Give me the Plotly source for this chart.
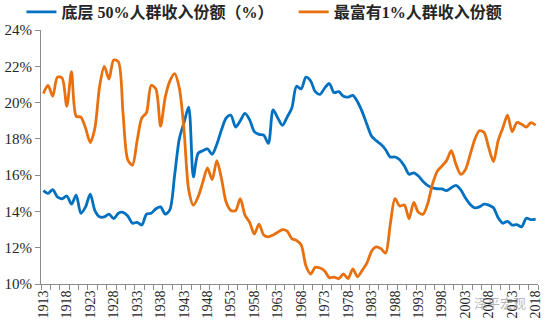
import plotly.graph_objects as go

# Years on the category axis
years = list(range(1913, 2019))

# Bottom 50% pre-tax income share (%)
bottom50 = [
    15.15, 15.0, 15.2, 14.8, 14.7, 14.85, 14.4, 14.9, 13.9, 14.25,   # 1913-1922
    14.95, 14.05, 13.7, 13.7, 13.85, 13.6, 13.9, 13.95, 13.75, 13.35,  # 1923-1932
    13.4, 13.25, 13.85, 13.9, 14.15, 14.25, 13.85, 14.1, 16.0, 18.0,   # 1933-1942
    18.9, 19.75, 15.9, 17.2, 17.35, 17.45, 17.15, 17.7, 18.5, 19.15,   # 1943-1952
    19.3, 18.65, 19.0, 19.4, 19.05, 18.4, 18.25, 18.2, 17.75, 19.6,    # 1953-1962
    19.15, 18.75, 19.2, 19.7, 20.9, 20.75, 21.4, 21.2, 20.6, 20.45,    # 1963-1972
    20.8, 21.05, 20.55, 20.6, 20.35, 20.3, 20.4, 20.05, 19.5, 18.8,    # 1973-1982
    18.15, 17.9, 17.7, 17.4, 17.0, 17.0, 16.85, 16.5, 16.05, 16.13,    # 1983-1992
    15.95, 15.65, 15.42, 15.3, 15.25, 15.24, 15.15, 15.3, 15.44, 15.2, # 1993-2002
    14.75, 14.4, 14.2, 14.25, 14.4, 14.35, 14.2, 13.65, 13.35, 13.45,  # 2003-2012
    13.25, 13.27, 13.15, 13.62, 13.55, 13.58,                          # 2013-2018
]

# Top 1% pre-tax income share (%)
top1 = [
    20.5, 20.95, 20.35, 21.4, 21.35, 19.8, 21.7, 19.25, 19.2, 18.6,    # 1913-1922
    17.8, 18.6, 20.9, 22.0, 21.3, 22.35, 22.25, 19.4, 16.85, 16.55,    # 1923-1932
    17.9, 19.15, 19.45, 20.95, 20.75, 18.7, 20.3, 21.2, 21.6, 20.8,    # 1933-1942
    18.5, 15.2, 14.35, 14.8, 15.6, 16.4, 15.75, 16.8, 15.8, 14.5,      # 1943-1952
    14.05, 14.05, 14.7, 13.8, 13.4, 12.75, 13.3, 12.7, 12.6, 12.7,     # 1953-1962
    12.85, 13.0, 12.92, 12.5, 12.4, 12.15, 11.0, 10.55, 10.92, 10.88,  # 1963-1972
    10.72, 10.35, 10.38, 10.3, 10.55, 10.3, 10.83, 10.4, 10.75, 11.15, # 1973-1982
    11.8, 12.05, 11.95, 11.7, 13.3, 14.7, 14.3, 14.35, 13.6, 14.5,     # 1983-1992
    13.95, 13.85, 14.45, 15.5, 16.2, 16.5, 16.8, 17.35, 16.6, 16.05,   # 1993-2002
    16.3, 17.1, 17.95, 18.45, 18.35, 17.5, 16.75, 17.9, 18.6, 19.3,    # 2003-2012
    18.4, 18.9, 18.8, 18.65, 18.9, 18.75,                              # 2013-2018
]

name_bottom = "底层 50%人群收入份额（%）"
name_top = "最富有1%人群收入份额"

label_years = years[::5]
tick_marks = [y - 0.5 for y in years[::2]] + [years[-1] + 0.5]
y_ticks = list(range(10, 25, 2))

BLUE = "#0070C0"
ORANGE = "#E8700F"
AXIS = "#8C8C8C"
TEXT = "#262626"
SERIF = "Times New Roman, Liberation Serif, Noto Sans CJK SC, serif"

fig = go.Figure()
fig.add_trace(go.Scatter(
    x=years, y=bottom50, name=name_bottom, mode="lines", legend="legend",
    line=dict(color=BLUE, width=2.8, shape="spline", smoothing=0.8),
))
fig.add_trace(go.Scatter(
    x=years, y=top1, name=name_top, mode="lines", legend="legend2",
    line=dict(color=ORANGE, width=2.8, shape="spline", smoothing=0.8),
))

legend_style = dict(
    orientation="h", xref="container", yref="container",
    y=0.9635, xanchor="left", yanchor="middle",
    font=dict(family=SERIF, size=16, color=TEXT, weight="bold"),
    itemwidth=30, bgcolor="rgba(0,0,0,0)", borderwidth=0,
)

fig.update_layout(
    width=550, height=329,
    margin=dict(l=41, r=12, t=30, b=45, autoexpand=False),
    paper_bgcolor="white", plot_bgcolor="white",
    showlegend=True,
    legend=dict(x=0.039, **legend_style),
    legend2=dict(x=0.534, **legend_style),
    annotations=[dict(
        text="泽平宏观", xref="paper", yref="paper", x=0.98, y=-0.071,
        xanchor="right", yanchor="middle", showarrow=False,
        font=dict(family="Noto Sans CJK SC", size=13, color="rgba(120,120,120,0.55)"),
    )],
)

fig.update_xaxes(
    range=[years[0] - 0.5, years[-1] + 0.5],
    tickmode="array", tickvals=label_years, ticktext=[str(y) for y in label_years],
    tickangle=-90, ticks="", showgrid=False, zeroline=False,
    showline=True, linecolor=AXIS, linewidth=1,
    tickfont=dict(family=SERIF, size=14, color=TEXT),
    minor=dict(tickmode="array", tickvals=tick_marks, ticks="outside",
               ticklen=5, tickcolor=AXIS, tickwidth=1, showgrid=False),
)
fig.update_yaxes(
    range=[10, 24], tickmode="array", tickvals=y_ticks,
    ticktext=[f"{v}%" for v in y_ticks],
    ticks="outside", ticklen=5, tickcolor=AXIS, tickwidth=1,
    showgrid=False, zeroline=False,
    showline=True, linecolor=AXIS, linewidth=1,
    tickfont=dict(family=SERIF, size=15, color=TEXT),
)

fig.write_html("out.html")
